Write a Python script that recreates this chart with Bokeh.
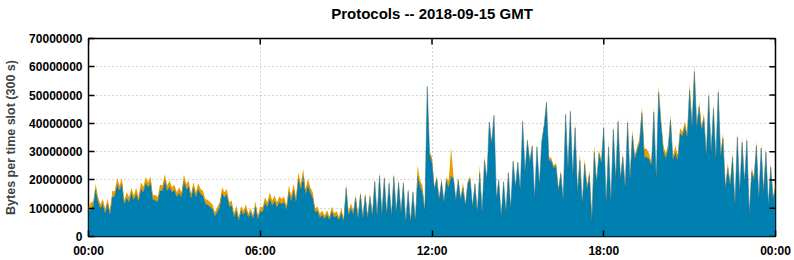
import math
from bokeh.plotting import figure
from bokeh.models import ColumnDataSource, Range1d, FixedTicker, LinearAxis
from bokeh.embed import file_html
from bokeh.resources import INLINE

title_text = "Protocols -- 2018-09-15 GMT"
y_label = "Bytes per time slot (300 s)"
x_tick_hours = [0, 6, 12, 18, 24]
x_tick_labels = ["00:00", "06:00", "12:00", "18:00", "00:00"]
y_ticks = [0, 10000000, 20000000, 30000000, 40000000, 50000000, 60000000, 70000000]
y_tick_labels = ["0", "10000000", "20000000", "30000000", "40000000", "50000000", "60000000", "70000000"]
slot_minutes = 5

# total bytes per 5-minute slot (millions)
total_m = [
    10.5, 12, 12.5, 18.6, 14, 11.5, 13.3, 9.8,
    13.3, 9.2, 16.2, 16, 20.7, 18, 20.6, 12.7,
    15.6, 14, 17.2, 14.5, 17.2, 14, 19.2, 17.6,
    21, 19.2, 21.3, 14.5, 14.8, 14, 18.4, 18,
    22.1, 18, 19.8, 17.4, 18.4, 15.6, 17.4, 15.6,
    21.9, 18.6, 19.8, 15, 19.2, 15.6, 18.8, 16.8,
    16.2, 13.3, 12.9, 12.1, 11.3, 8.6, 10.3, 12.1,
    17.4, 15.6, 16.8, 12.1, 12.7, 8.2, 10.9, 6.8,
    10.9, 9.2, 11.3, 8, 10.1, 7.4, 12.5, 7.4,
    10.6, 10.3, 13.9, 12.1, 15.6, 12.7, 14.5, 12.1,
    14.1, 13.3, 14.1, 10.9, 18, 14.5, 18.6, 13.9,
    22.7, 18.6, 23.9, 16.8, 20.4, 17.4, 15.6, 10,
    10.6, 8, 9.2, 7.4, 9.4, 7, 10.6, 8.2,
    8.9, 7, 10.1, 6.2, 18.6, 8.6, 11.8, 9.2,
    14.8, 7.4, 15.9, 7.4, 15.5, 7.4, 15.3, 8,
    20.6, 8, 22.7, 8.6, 21.8, 8.6, 19.8, 8,
    22.4, 9.2, 20, 9.2, 19.8, 5.6, 17.2, 5.6,
    16.8, 6.2, 25.3, 19.8, 18, 9.8,
    54,
    30, 28, 17.4, 21.5, 13.8, 20.3, 12.7, 20.9,
    19.7, 31.3, 21.5, 13.3, 20.9, 13.8, 19.1, 11.5,
    19.7, 21.3, 10.9, 19.5, 9.1, 25.3, 9.1, 28.2,
    20.9, 41.2, 33.3, 43.6, 13.8, 20.7, 7.4, 20.1,
    9.1, 23.3, 10.3, 27.4, 18, 27, 16.8, 41.5,
    23.3, 34.7, 26.8, 32.7, 13.8, 32.5, 18.6, 34.1,
    39.8,
    48.3, 28, 27.8, 25.1, 26, 16.9, 23.4, 13.4,
    44.6, 24.5, 45.4, 22.2, 40.4, 16.3, 29.3, 12.2,
    27.5, 17.7, 23.6, 8.1, 32.2, 19.8, 30.7, 26.9,
    39.9, 12.2, 34, 12.8, 39.3, 21, 42.2, 21,
    29.5, 18, 42.2, 21, 37.7, 28.7, 31.8, 34.6,
    45.7, 31, 31, 29.3, 26.3, 46, 21, 53.4,
    41.3, 31.8, 29.5, 32.4, 43, 28.3, 32, 28.9,
    38.3, 37, 40.7, 36.6, 54.2, 40.1, 60.7, 40.1,
    47.7, 38.9, 43.6, 29.5, 51.6, 30.7, 47.2, 28.3,
    53, 29.5, 36.6, 17.7, 26, 18.9, 29.5, 11.8,
    36.6, 16.5, 34.8, 20, 35.4, 8.3, 24.2, 21.2,
    33.6, 14.2, 32.8, 16.5, 31.3, 11.8, 26, 14.2,
    19.1,
]

# thickness of the upper (orange) protocol layer (millions)
orange_m = [
    1.8, 2.0, 1.6, 2.2, 1.8, 1.5, 2.0, 1.6,
    2.0, 1.5, 2.2, 1.8, 2.4, 1.8, 2.2, 1.6,
    2.0, 1.8, 2.0, 1.6, 2.2, 1.8, 2.4, 2.0,
    2.2, 1.8, 2.4, 1.6, 2.0, 1.8, 2.2, 1.8,
    2.4, 2.0, 2.2, 1.8, 2.0, 1.6, 2.0, 1.8,
    2.4, 2.0, 2.2, 1.6, 2.0, 1.8, 2.2, 1.8,
    2.0, 1.8, 1.8, 1.6, 1.6, 1.4, 1.6, 1.8,
    2.2, 1.8, 2.0, 1.6, 1.8, 1.4, 1.8, 1.2,
    1.8, 1.6, 1.8, 1.4, 1.6, 1.2, 2.0, 1.2,
    1.8, 1.6, 2.0, 1.8, 2.2, 1.8, 2.0, 1.8,
    2.0, 1.8, 2.0, 1.6, 2.4, 2.0, 2.4, 1.8,
    2.6, 2.2, 2.8, 2.0, 2.4, 2.0, 2.0, 1.4,
    1.6, 1.4, 1.6, 1.2, 1.6, 1.2, 1.8, 1.4,
    1.6, 1.2, 1.8, 1.0, 1.6, 1.2, 1.8, 1.4,
    1.4, 1.0, 1.2, 1.0, 1.2, 1.0, 1.2, 1.0,
    1.2, 1.0, 1.2, 1.0, 1.2, 1.0, 1.0, 1.0,
    1.2, 1.0, 1.0, 1.0, 1.0, 0.8, 1.2, 0.8,
    1.2, 0.8, 4.0, 2.0, 2.5, 1.0,
    1.0,
    1.0, 2.0, 0.8, 1.2, 0.8, 1.0, 0.6, 1.2,
    2.5, 10.0, 1.0, 0.6, 1.0, 0.8, 2.0, 0.6,
    1.0, 1.0, 0.6, 1.0, 0.6, 3.0, 0.6, 1.5,
    0.8, 0.8, 0.6, 0.8, 0.5, 0.8, 0.5, 0.8,
    0.5, 0.8, 0.5, 0.8, 0.6, 0.8, 0.6, 0.8,
    0.6, 0.8, 0.6, 0.8, 0.5, 0.8, 0.6, 0.8,
    0.8,
    1.0, 1.0, 1.0, 1.0, 1.0, 0.8, 1.2, 0.8,
    1.5, 1.0, 1.2, 1.0, 2.0, 0.8, 2.5, 0.8,
    2.0, 1.0, 2.0, 3.0, 2.5, 1.0, 1.5, 1.0,
    1.5, 0.8, 2.5, 0.8, 1.5, 1.0, 1.5, 1.0,
    1.5, 1.0, 2.0, 1.0, 2.0, 1.2, 1.5, 1.5,
    2.0, 3.0, 3.0, 2.0, 1.2, 2.0, 1.0, 2.5,
    1.5, 1.5, 2.0, 1.5, 2.0, 1.2, 2.5, 2.0,
    2.0, 1.5, 2.0, 1.5, 2.5, 1.5, 2.5, 1.5,
    2.0, 1.5, 2.0, 1.2, 2.0, 1.2, 2.0, 1.2,
    2.0, 1.2, 2.0, 1.0, 2.0, 1.0, 1.5, 0.8,
    1.5, 1.0, 1.5, 1.0, 1.5, 0.6, 1.5, 1.2,
    1.5, 1.0, 1.5, 1.0, 1.5, 0.8, 1.5, 1.0,
    2.0,
]

n = min(len(total_m), len(orange_m))
hours = [i * slot_minutes / 60.0 for i in range(n)]
blue_vals = [(total_m[i] - orange_m[i]) * 1e6 for i in range(n)]
orange_vals = [orange_m[i] * 1e6 for i in range(n)]

BLUE = "#0080b0"
ORANGE = "#e69f00"
FONT = "Liberation Sans"

src = ColumnDataSource(dict(h=hours, blue=blue_vals, orange=orange_vals))

x_end = x_tick_hours[-1]
y_end = y_ticks[-1]

p = figure(width=794, height=260, x_range=Range1d(0, x_end), y_range=Range1d(0, y_end),
           output_backend="svg", toolbar_location=None,
           min_border_left=88, min_border_right=19, min_border_top=38, min_border_bottom=24,
           title=None)
p.background_fill_color = "white"
p.border_fill_color = "white"
p.outline_line_color = "black"
p.outline_line_width = 1.5

p.varea_stack(["blue", "orange"], x="h", color=[BLUE, ORANGE], source=src)
p.line("h", "blue", source=src, color="#1c5f76", line_width=0.7, line_alpha=0.6)

# mirrored inward ticks on the right and top edges (half of each dash is clipped)
p.scatter(x=[x_end] * len(y_ticks), y=y_ticks, marker="dash", size=12,
          line_color="black", line_width=1.5)
p.scatter(x=x_tick_hours, y=[y_end] * len(x_tick_hours), marker="dash", size=12,
          angle=math.pi / 2, line_color="black", line_width=1.5)

x_over = {h: lab for h, lab in zip(x_tick_hours, x_tick_labels)}
y_over = {v: lab for v, lab in zip(y_ticks, y_tick_labels)}

def style(ax):
    ax.axis_line_color = None
    ax.major_tick_in = 6
    ax.major_tick_out = 0
    ax.major_tick_line_color = "black"
    ax.major_tick_line_width = 1.5
    ax.minor_tick_line_color = None
    ax.major_label_text_font = FONT
    ax.major_label_text_font_size = "12px"
    ax.major_label_text_font_style = "bold"
    ax.major_label_text_color = "black"

xa = p.below[0]
xa.ticker = FixedTicker(ticks=x_tick_hours)
xa.major_label_overrides = x_over
style(xa)
xa.major_label_standoff = 7

ya = p.left[0]
ya.ticker = FixedTicker(ticks=y_ticks)
ya.major_label_overrides = y_over
style(ya)
ya.major_label_standoff = 6
ya.axis_label = y_label
ya.axis_label_text_font = FONT
ya.axis_label_text_font_size = "12.5px"
ya.axis_label_text_font_style = "bold"
ya.axis_label_standoff = 8

p.xgrid.ticker = FixedTicker(ticks=x_tick_hours[1:-1])
p.ygrid.ticker = FixedTicker(ticks=y_ticks[1:-1])
for g in (p.xgrid[0], p.ygrid[0]):
    g.grid_line_color = "#a8a8a8"
    g.grid_line_dash = "1 3"
    g.grid_line_width = 1

# chart title, carried by a tick-less axis above the frame
top = LinearAxis(ticker=FixedTicker(ticks=[]))
top.axis_line_color = None
top.major_tick_in = 0
top.major_tick_out = 0
top.major_tick_line_color = None
top.minor_tick_in = 0
top.minor_tick_out = 0
top.minor_tick_line_color = None
top.major_label_standoff = 0
top.axis_label = title_text
top.axis_label_text_font = FONT
top.axis_label_text_font_size = "15px"
top.axis_label_text_font_style = "bold"
top.axis_label_text_color = "black"
top.axis_label_standoff = 17
p.add_layout(top, "above")

open("out.html", "w").write(file_html(p, INLINE))
